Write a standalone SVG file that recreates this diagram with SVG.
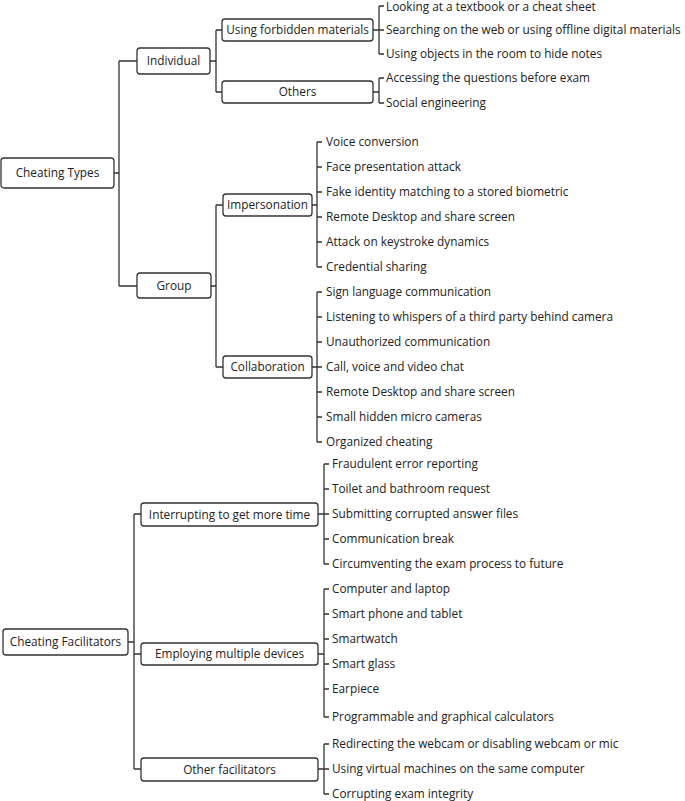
<svg xmlns="http://www.w3.org/2000/svg" width="685" height="801" viewBox="0 0 685 801">
<style>
text{font-family:"Open Sans","Noto Sans","Liberation Sans",sans-serif;font-size:11.8px;fill:#222}
.n rect{fill:#fff;stroke:#333;stroke-width:1.3}
.n text{text-anchor:middle}
#connectors path{fill:none;stroke:#333;stroke-width:1.3}
</style>
<rect width="685" height="801" fill="#fff"/>
<g id="connectors">
<path d="M114 173H119M119 61V286M119 61H137M119 286H137"/>
<path d="M210 61H216M216 30V92M216 30H222M216 92H222"/>
<path d="M373 30H379M379 6V54M379 6H384M379 30H384M379 54H384"/>
<path d="M373 92H379M379 78V103M379 78H384M379 103H384"/>
<path d="M211 286H216M216 205V367M216 205H223M216 367H223"/>
<path d="M312 205H317M317 142V267M317 142H322M317 167H322M317 192H322M317 217H322M317 242H322M317 267H322"/>
<path d="M312 367H317M317 292V442M317 292H322M317 317H322M317 342H322M317 367H322M317 392H322M317 417H322M317 442H322"/>
<path d="M128 642H134M134 514V769M134 514H141M134 654H141M134 769H141"/>
<path d="M318 514H324M324 464V564M324 464H329M324 489H329M324 514H329M324 539H329M324 564H329"/>
<path d="M318 654H324M324 589V717M324 589H329M324 614H329M324 639H329M324 664H329M324 689H329M324 717H329"/>
<path d="M318 769H324M324 744V794M324 744H329M324 769H329M324 794H329"/>
</g>
<g id="cheating-types" class="n"><rect x="1" y="158" width="113" height="30" rx="3"/><text x="57.5" y="177">Cheating Types</text></g>
<g id="individual" class="n"><rect x="137" y="48" width="73" height="26" rx="3"/><text x="173.5" y="65">Individual</text></g>
<g id="group" class="n"><rect x="137" y="273" width="74" height="25" rx="3"/><text x="174" y="290">Group</text></g>
<g id="forbidden" class="n"><rect x="222" y="19" width="151" height="22" rx="3"/><text x="297.5" y="34">Using forbidden materials</text></g>
<g id="others" class="n"><rect x="222" y="81" width="151" height="22" rx="3"/><text x="297.5" y="96">Others</text></g>
<g id="impersonation" class="n"><rect x="223" y="194" width="89" height="22" rx="3"/><text x="267.5" y="209">Impersonation</text></g>
<g id="collaboration" class="n"><rect x="223" y="356" width="89" height="22" rx="3"/><text x="267.5" y="371">Collaboration</text></g>
<g id="cheating-facilitators" class="n"><rect x="3" y="629" width="125" height="26" rx="3"/><text x="65.5" y="646">Cheating Facilitators</text></g>
<g id="interrupting" class="n"><rect x="141" y="503" width="177" height="23" rx="3"/><text x="229.5" y="518.5">Interrupting to get more time</text></g>
<g id="employing" class="n"><rect x="141" y="643" width="177" height="22" rx="3"/><text x="229.5" y="658">Employing multiple devices</text></g>
<g id="other-facilitators" class="n"><rect x="141" y="758" width="177" height="23" rx="3"/><text x="229.5" y="773.5">Other facilitators</text></g>
<g id="leaves">
<text x="386" y="11">Looking at a textbook or a cheat sheet</text>
<text x="386" y="34">Searching on the web or using offline digital materials</text>
<text x="386" y="58">Using objects in the room to hide notes</text>
<text x="386" y="82">Accessing the questions before exam</text>
<text x="386" y="107">Social engineering</text>
<text x="326" y="146">Voice conversion</text>
<text x="326" y="171">Face presentation attack</text>
<text x="326" y="196">Fake identity matching to a stored biometric</text>
<text x="326" y="221">Remote Desktop and share screen</text>
<text x="326" y="246">Attack on keystroke dynamics</text>
<text x="326" y="271">Credential sharing</text>
<text x="326" y="296">Sign language communication</text>
<text x="326" y="321">Listening to whispers of a third party behind camera</text>
<text x="326" y="346">Unauthorized communication</text>
<text x="326" y="371">Call, voice and video chat</text>
<text x="326" y="396">Remote Desktop and share screen</text>
<text x="326" y="421">Small hidden micro cameras</text>
<text x="326" y="446">Organized cheating</text>
<text x="332" y="468">Fraudulent error reporting</text>
<text x="332" y="493">Toilet and bathroom request</text>
<text x="332" y="518">Submitting corrupted answer files</text>
<text x="332" y="543">Communication break</text>
<text x="332" y="568">Circumventing the exam process to future</text>
<text x="332" y="593">Computer and laptop</text>
<text x="332" y="618">Smart phone and tablet</text>
<text x="332" y="643">Smartwatch</text>
<text x="332" y="668">Smart glass</text>
<text x="332" y="693">Earpiece</text>
<text x="332" y="721">Programmable and graphical calculators</text>
<text x="332" y="748">Redirecting the webcam or disabling webcam or mic</text>
<text x="332" y="773">Using virtual machines on the same computer</text>
<text x="332" y="798">Corrupting exam integrity</text>
</g>
</svg>
